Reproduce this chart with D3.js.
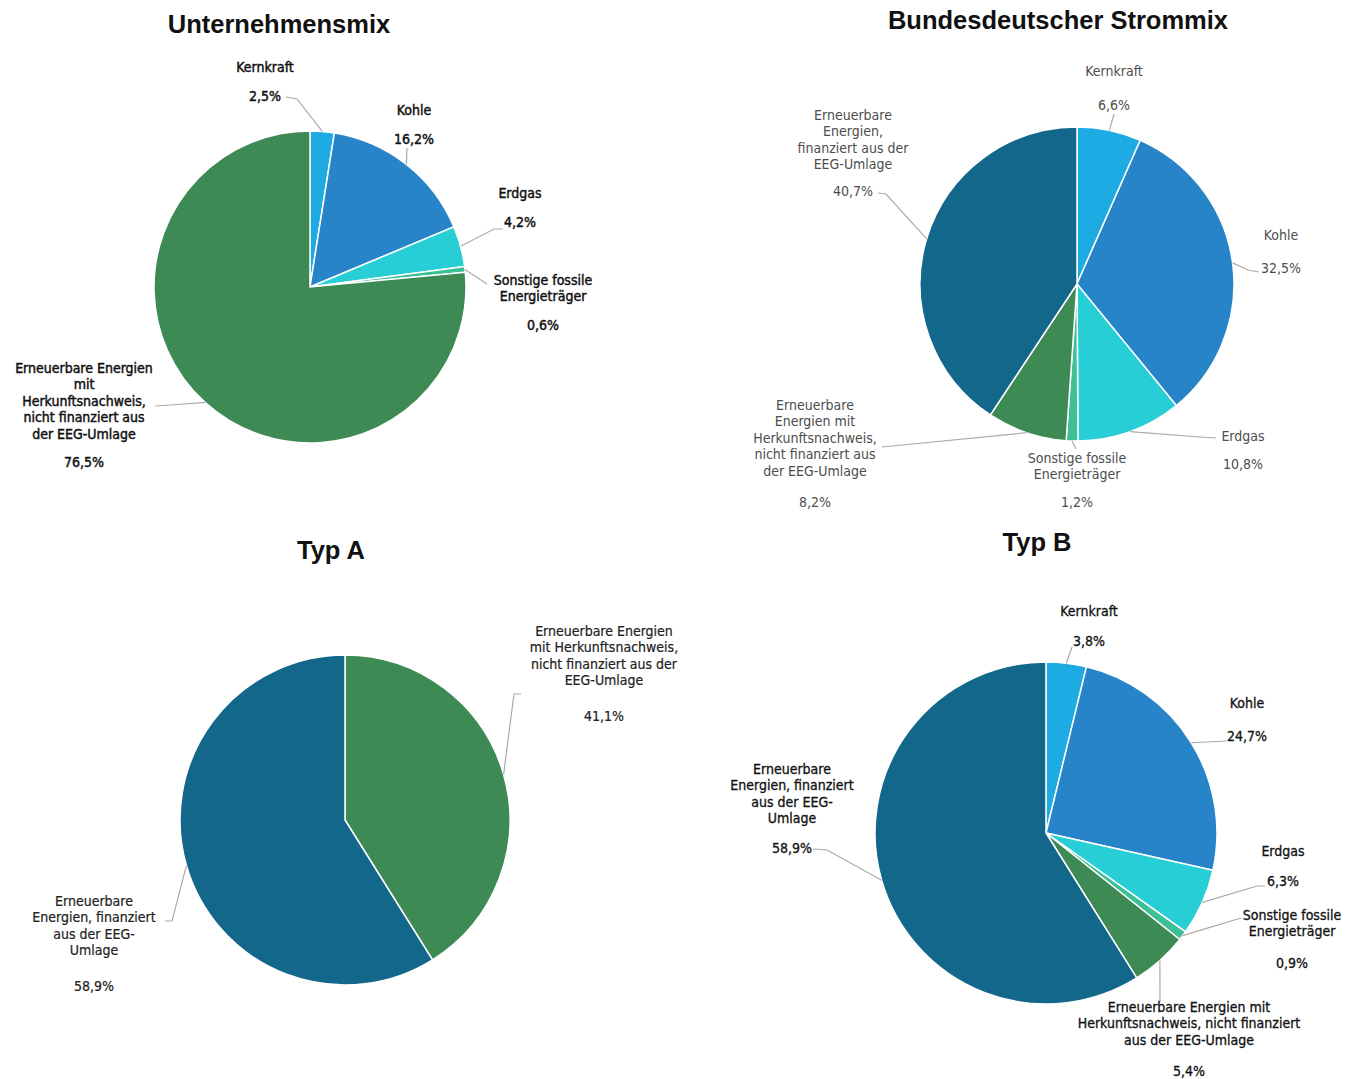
<!DOCTYPE html>
<html lang="de">
    <head>
        <meta charset="UTF-8">
        <title>Strommix</title>
        <style>
        body {
            margin: 0;
            background: #fff;
            overflow: hidden;
        }
        .title {
            font-family: "Liberation Sans", Arial, sans-serif;
            font-weight: bold;
            font-size: 25.5px;
            fill: #111;
        }
        .label {
            font-family: "Liberation Sans Narrow", "DejaVu Sans Condensed", Roboto, sans-serif;
            font-size: 14px;
        }
        .leader {
            fill: none;
            stroke: #aaa;
            stroke-width: 1.2px;
        }
        .slice {
            stroke: #fff;
            stroke-width: 1.5px;
        }
        </style>
    </head>
    <body>
        <svg></svg>
        <script src="https://d3js.org/d3.v7.min.js"></script>
        <script>
    // categories (same order in every pie, clockwise from 12 o'clock)
    const categories = [
        "Kernkraft",
        "Kohle",
        "Erdgas",
        "Sonstige fossile Energieträger",
        "Erneuerbare Energien mit Herkunftsnachweis, nicht finanziert aus der EEG-Umlage",
        "Erneuerbare Energien, finanziert aus der EEG-Umlage"
    ];

    // values in percent
    const unternehmenValues = [2.5, 16.2, 4.2, 0.6, 76.5, 0];
    const bundValues = [6.6, 32.5, 10.8, 1.2, 8.2, 40.7];
    const typAValues = [0, 0, 0, 0, 41.1, 58.9];
    const typBValues = [3.8, 24.7, 6.3, 0.9, 5.4, 58.9];

    // label texts as wrapped in each chart ("|" = line break)
    const unternehmenLabels = ["Kernkraft", "Kohle", "Erdgas", "Sonstige fossile|Energieträger",
        "Erneuerbare Energien|mit|Herkunftsnachweis,|nicht finanziert aus|der EEG-Umlage", ""];
    const bundLabels = ["Kernkraft", "Kohle", "Erdgas", "Sonstige fossile|Energieträger",
        "Erneuerbare|Energien mit|Herkunftsnachweis,|nicht finanziert aus|der EEG-Umlage",
        "Erneuerbare|Energien,|finanziert aus der|EEG-Umlage"];
    const typALabels = ["", "", "", "",
        "Erneuerbare Energien|mit Herkunftsnachweis,|nicht finanziert aus der|EEG-Umlage",
        "Erneuerbare|Energien, finanziert|aus der EEG-|Umlage"];
    const typBLabels = ["Kernkraft", "Kohle", "Erdgas", "Sonstige fossile|Energieträger",
        "Erneuerbare Energien mit|Herkunftsnachweis, nicht finanziert|aus der EEG-Umlage",
        "Erneuerbare|Energien, finanziert|aus der EEG-|Umlage"];

    const colors = ["#1eaae2", "#2784c8", "#27ced6", "#3dbf98", "#3e8a55", "#12678a"];

    const width = 1360, height = 1079;
    const svg = d3.select("svg").attr("width", width).attr("height", height);

    const color = d3.scaleOrdinal().domain(categories).range(colors);
    const fmt = v => d3.format(".1f")(v).replace(".", ",") + "%";

    // layout of each pie: center, radius, title and where its labels sit
    const charts = [
        {
            title: "Unternehmensmix", tx: 279, ty: 33, cx: 310, cy: 287, r: 156,
            values: unternehmenValues, labels: unternehmenLabels, textColor: "#111", heavy: 0.45,
            place: [
                {x: 265, y: 67, py: 96, lead: [[286, 97], [297, 99]]},
                {x: 414, y: 110, py: 139, lead: [[407, 148]]},
                {x: 520, y: 193, py: 222, lead: [[503, 229], [494, 229]]},
                {x: 543, y: 280, py: 325, lead: [[487, 284]]},
                {x: 84, y: 368, py: 462, lead: [[155, 406], [171, 405]]},
                null
            ]
        },
        {
            title: "Bundesdeutscher Strommix", tx: 1058, ty: 29, cx: 1077, cy: 284, r: 157,
            values: bundValues, labels: bundLabels, textColor: "#4d4d4d", heavy: 0,
            place: [
                {x: 1114, y: 71, py: 105, lead: [[1114, 114]]},
                {x: 1281, y: 235, py: 268, lead: [[1259, 272], [1248, 270]]},
                {x: 1243, y: 436, py: 464, lead: [[1216, 438], [1200, 437]]},
                {x: 1077, y: 458, py: 502, lead: [[1076, 449]]},
                {x: 815, y: 405, py: 502, lead: [[882, 447]]},
                {x: 853, y: 115, py: 191, lead: [[878, 193], [886, 194]]}
            ]
        },
        {
            title: "Typ A", tx: 331, ty: 559, cx: 345, cy: 820, r: 165,
            values: typAValues, labels: typALabels, textColor: "#222", heavy: 0.2,
            place: [null, null, null, null,
                {x: 604, y: 631, py: 716, lead: [[521, 694], [514, 694]]},
                {x: 94, y: 901, py: 986, lead: [[165, 921], [172, 921]]}
            ]
        },
        {
            title: "Typ B", tx: 1037, ty: 551, cx: 1046, cy: 833, r: 171,
            values: typBValues, labels: typBLabels, textColor: "#111", heavy: 0.3,
            place: [
                {x: 1089, y: 611, py: 641, lead: [[1072, 647]]},
                {x: 1247, y: 703, py: 736, lead: [[1227, 741]]},
                {x: 1283, y: 851, py: 881, lead: [[1265, 886], [1257, 886]]},
                {x: 1292, y: 915, py: 963, lead: [[1241, 918]]},
                {x: 1189, y: 1007, py: 1071, lead: [[1160, 1002]]},
                {x: 792, y: 769, py: 848, lead: [[813, 849], [827, 850]]}
            ]
        }
    ];

    const pie = d3.pie().sort(null).value(d => d.value);
    const lineGen = d3.line();

    charts.forEach(c => {
        const rows = categories.map((cat, i) => ({cat, value: c.values[i], label: c.labels[i], place: c.place[i]}));
        const arcs = pie(rows).filter(a => a.data.value > 0);
        const arc = d3.arc().innerRadius(0).outerRadius(c.r);

        svg.append("text")
            .attr("class", "title")
            .attr("x", c.tx)
            .attr("y", c.ty)
            .attr("text-anchor", "middle")
            .text(c.title);

        const g = svg.append("g").attr("transform", `translate(${c.cx},${c.cy})`);

        g.selectAll("path.slice")
            .data(arcs)
            .join("path")
            .attr("class", "slice")
            .attr("d", arc)
            .attr("fill", d => color(d.data.cat));

        // leader lines: from near the text to the slice edge at its mid angle
        svg.append("g")
            .selectAll("path")
            .data(arcs.filter(a => a.data.place))
            .join("path")
            .attr("class", "leader")
            .attr("d", a => {
                const mid = (a.startAngle + a.endAngle) / 2;
                const edge = d3.pointRadial(mid, c.r);
                return lineGen(a.data.place.lead.concat([[c.cx + edge[0], c.cy + edge[1]]]));
            });

        const lab = svg.append("g")
            .selectAll("g")
            .data(arcs.filter(a => a.data.place))
            .join("g")
            .attr("class", "label")
            .attr("fill", c.textColor)
            .attr("stroke", c.heavy ? c.textColor : "none")
            .attr("stroke-width", c.heavy);

        lab.each(function (a) {
            const p = a.data.place;
            const sel = d3.select(this);
            a.data.label.split("|").forEach((line, k) => {
                sel.append("text")
                    .attr("x", p.x)
                    .attr("y", p.y + k * 16.5)
                    .attr("dy", "0.35em")
                    .attr("text-anchor", "middle")
                    .text(line);
            });
            sel.append("text")
                .attr("x", p.x)
                .attr("y", p.py)
                .attr("dy", "0.35em")
                .attr("text-anchor", "middle")
                .text(fmt(a.data.value));
        });
    });
        </script>
    </body>
</html>
